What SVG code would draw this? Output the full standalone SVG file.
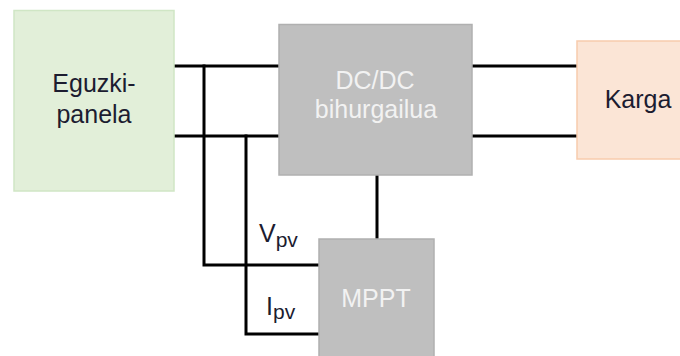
<svg xmlns="http://www.w3.org/2000/svg" width="680" height="356" viewBox="0 0 680 356">
<style>
.w{stroke:#000;stroke-width:3;fill:none;stroke-linecap:square}
.t{font-family:"Liberation Sans",Arial,sans-serif;font-size:25px;text-anchor:middle}
.s{font-family:"Liberation Sans",Arial,sans-serif;font-size:25px}
.dark{fill:#1c1c30}
.light{fill:#f2f2f2}
</style>
<rect width="680" height="356" fill="#fff"/>
<g id="connectors">
<path class="w" d="M174 66H279M174 136H279M472 66H577M472 136H577"/>
<path class="w" d="M204 66V265H319M246 136V334H319M377 175V239"/>
</g>
<g id="panel">
<rect x="14" y="10.5" width="160" height="180.5" fill="#e2efd9" stroke="#d0e6c5" stroke-width="1.5"/>
<text class="t dark" x="94" y="92">Eguzki-</text>
<text class="t dark" x="94" y="123">panela</text>
</g>
<g id="dcdc">
<rect x="279" y="24.5" width="193" height="150.5" fill="#bfbfbf" stroke="#b0b0b0" stroke-width="1.5"/>
<text class="t light" x="375" y="89">DC/DC</text>
<text class="t light" x="376" y="118">bihurgailua</text>
</g>
<g id="karga">
<rect x="577" y="41" width="110" height="118" fill="#fbe5d6" stroke="#f8cbad" stroke-width="1.5"/>
<text class="t dark" x="638" y="108">Karga</text>
</g>
<g id="mppt">
<rect x="319" y="239" width="115" height="125" fill="#bfbfbf" stroke="#b0b0b0" stroke-width="1.5"/>
<text class="t light" x="376" y="307">MPPT</text>
</g>
<g id="labels">
<text class="s dark" x="259" y="242">V<tspan font-size="21" dy="5">pv</tspan></text>
<text class="s dark" x="266" y="315">I<tspan font-size="21" dy="4">pv</tspan></text>
</g>
</svg>
